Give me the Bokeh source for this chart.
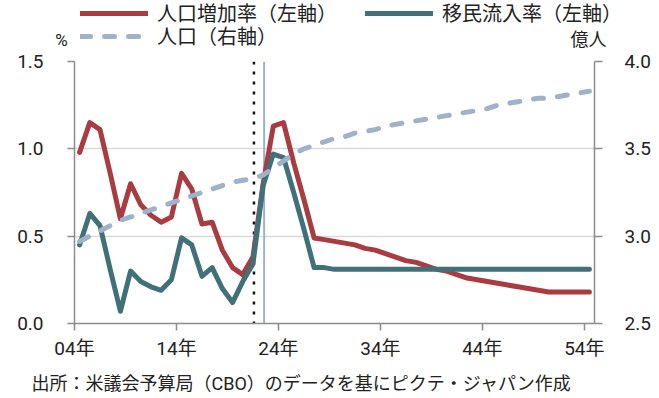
from bokeh.plotting import figure
from bokeh.layouts import column
from bokeh.models import (Range1d, LinearAxis, FixedTicker, PrintfTickFormatter, Span,
                          Legend, LegendItem, ColumnDataSource, Label)
from bokeh.embed import file_html
from bokeh.resources import INLINE

# ---- data ----
years = list(range(2004, 2055))
pop_growth = [0.98, 1.15, 1.11, 0.86, 0.60, 0.80, 0.68, 0.62, 0.58, 0.61,
              0.86, 0.77, 0.57, 0.58, 0.42, 0.32, 0.28, 0.38, 0.80, 1.13,
              1.15, 0.92, 0.71, 0.49, 0.48, 0.47, 0.46, 0.45, 0.43, 0.42,
              0.40, 0.38, 0.36, 0.35, 0.33, 0.31, 0.30, 0.28, 0.26, 0.25,
              0.24, 0.23, 0.22, 0.21, 0.20, 0.19, 0.18, 0.18, 0.18, 0.18,
              0.18]
immigration = [0.45, 0.63, 0.56, 0.31, 0.07, 0.30, 0.24, 0.21, 0.19, 0.25,
               0.49, 0.45, 0.27, 0.32, 0.20, 0.12, 0.24, 0.34, 0.79, 0.97,
               0.95, 0.75, 0.54, 0.32, 0.32, 0.31, 0.31, 0.31, 0.31, 0.31,
               0.31, 0.31, 0.31, 0.31, 0.31, 0.31, 0.31, 0.31, 0.31, 0.31,
               0.31, 0.31, 0.31, 0.31, 0.31, 0.31, 0.31, 0.31, 0.31, 0.31,
               0.31]
population = [2.97, 3.00, 3.03, 3.06, 3.09, 3.11, 3.13, 3.15, 3.17, 3.19,
              3.21, 3.23, 3.25, 3.27, 3.29, 3.31, 3.32, 3.33, 3.35, 3.39,
              3.43, 3.47, 3.50, 3.52, 3.54, 3.56, 3.57, 3.59, 3.60, 3.61,
              3.63, 3.64, 3.65, 3.66, 3.67, 3.68, 3.69, 3.70, 3.71, 3.72,
              3.73, 3.75, 3.76, 3.77, 3.78, 3.79, 3.79, 3.80, 3.81, 3.82,
              3.83]
tick_years = [2004, 2014, 2024, 2034, 2044, 2054]
tick_labels = ["04年", "14年", "24年", "34年", "44年", "54年"]
left_ticks = [0.0, 0.5, 1.0, 1.5]
right_ticks = [2.5, 3.0, 3.5, 4.0]
series_names = ["人口増加率（左軸）", "移民流入率（左軸）", "人口（右軸）"]
left_unit = "%"
right_unit = "億人"
marker_dotted = 2021.1
marker_solid = 2022.1
caption = "出所：米議会予算局（CBO）のデータを基にピクテ・ジャパン作成"

FONT = "Roboto, Noto Sans CJK JP"
RED = "#A83C41"
TEAL = "#417178"
BLUE = "#A0B2C8"
AXIS = "#8C8C8C"
TXT = "#222222"
W = 659
HEAD_H, MAIN_H, FOOT_H = 50, 312, 36

RED_STYLE = dict(line_color=RED, line_width=5, line_join="round", line_cap="round")
TEAL_STYLE = dict(line_color=TEAL, line_width=5, line_join="round", line_cap="round")
POP_STYLE = dict(line_color=BLUE, line_width=5, line_dash="10 14", line_cap="round",
                 line_join="round")

src = ColumnDataSource(dict(year=years, growth=pop_growth, imm=immigration, pop=population))


def blank_panel(height):
    f = figure(width=W, height=height, x_range=Range1d(0, W), y_range=Range1d(height, 0),
               x_axis_type=None, y_axis_type=None, output_backend="svg",
               toolbar_location=None, min_border=0,
               min_border_left=0, min_border_right=0, min_border_top=0, min_border_bottom=0)
    f.frame_align = False
    f.outline_line_color = None
    f.background_fill_color = "white"
    f.border_fill_color = "white"
    return f


# ---------- main chart ----------
p = figure(width=W, height=MAIN_H, output_backend="svg", toolbar_location=None,
           x_range=Range1d(2003.5, 2054.5), y_range=Range1d(0, 1.5),
           min_border_left=74, min_border_right=65, min_border_top=11, min_border_bottom=39)
p.frame_align = False
p.outline_line_color = None
p.background_fill_color = "white"
p.border_fill_color = "white"
p.extra_y_ranges = {"pop": Range1d(2.5, 4.0)}

p.xgrid.visible = False
p.ygrid.ticker = FixedTicker(ticks=left_ticks)
p.ygrid.grid_line_color = "#D9D9D9"
p.ygrid.grid_line_width = 1.5


def style_axis(ax, tick_out, standoff):
    ax.minor_tick_line_color = None
    ax.major_tick_in = 0
    ax.major_tick_out = tick_out
    ax.axis_line_color = AXIS
    ax.major_tick_line_color = AXIS
    ax.axis_line_width = 1.5
    ax.major_tick_line_width = 1.5
    ax.major_label_text_font = FONT
    ax.major_label_text_font_size = "19px"
    ax.major_label_text_color = TXT
    ax.major_label_standoff = standoff


xa = p.xaxis[0]
xa.ticker = FixedTicker(ticks=[y - 0.5 for y in tick_years])
xa.major_label_overrides = {y - 0.5: lab for y, lab in zip(tick_years, tick_labels)}
style_axis(xa, 7, 6)

ya = p.yaxis[0]
ya.ticker = FixedTicker(ticks=left_ticks)
ya.formatter = PrintfTickFormatter(format="%.1f")
style_axis(ya, 7, 24)

ra = LinearAxis(y_range_name="pop", ticker=FixedTicker(ticks=right_ticks),
                formatter=PrintfTickFormatter(format="%.1f"))
style_axis(ra, 8, 22)
p.add_layout(ra, "right")

p.add_layout(Span(location=marker_dotted, dimension="height", line_color="#111111",
                  line_width=2.5, line_dash="3 7", level="underlay"))
p.add_layout(Span(location=marker_solid, dimension="height", line_color="#9CB1CB",
                  line_width=2, level="underlay"))

p.line("year", "growth", source=src, **RED_STYLE)
p.line("year", "imm", source=src, **TEAL_STYLE)
p.line("year", "pop", source=src, y_range_name="pop", **POP_STYLE)

# ---------- header: legend and unit labels ----------
head = blank_panel(HEAD_H)
# same series drawn off-screen in the header, only to feed the legend
h_red = head.line("year", "growth", source=src, **RED_STYLE)
h_teal = head.line("year", "imm", source=src, **TEAL_STYLE)
h_pop = head.line("year", "pop", source=src, **POP_STYLE)


def mk_legend(items, loc, spacing):
    return Legend(items=items, location=loc, orientation="horizontal", spacing=spacing,
                  padding=0, margin=0, glyph_width=68, glyph_height=20,
                  label_standoff=9, label_width=0, label_height=0,
                  border_line_alpha=0, background_fill_alpha=0,
                  label_text_font=FONT, label_text_font_size="20px", label_text_color=TXT)


head.add_layout(mk_legend([LegendItem(label=series_names[0], renderers=[h_red]),
                           LegendItem(label=series_names[1], renderers=[h_teal])],
                          (80, 23), 28), "center")
head.add_layout(mk_legend([LegendItem(label=series_names[2], renderers=[h_pop])],
                          (80, 0), 0), "center")
head.add_layout(Label(x=61, y=39.5, text=left_unit, text_font=FONT, text_font_size="17px",
                      text_color=TXT, text_align="center", text_baseline="middle"))
head.add_layout(Label(x=588, y=38.5, text=right_unit, text_font=FONT, text_font_size="18px",
                      text_color=TXT, text_align="center", text_baseline="middle"))

# ---------- footer: source note ----------
foot = blank_panel(FOOT_H)
foot.add_layout(Label(x=31, y=21, text=caption, text_font=FONT, text_font_size="18px",
                      text_color=TXT, text_align="left", text_baseline="middle"))

layout = column(head, p, foot, spacing=0)
open("out.html", "w").write(file_html(layout, INLINE))
